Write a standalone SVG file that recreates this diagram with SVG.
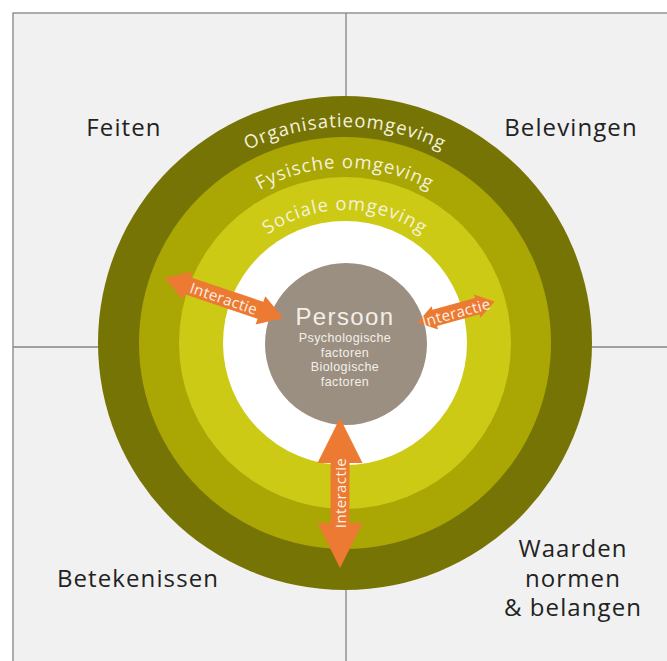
<svg xmlns="http://www.w3.org/2000/svg" width="667" height="661" viewBox="0 0 667 661">
<style>
.q{font-family:"Open Sans","Liberation Sans",sans-serif;font-size:24px;fill:#222;text-anchor:middle;letter-spacing:1.1px}
.ring{font-family:"Open Sans","Liberation Sans",sans-serif;font-size:18.5px;fill:#f4f2dc;letter-spacing:1px}
.arr{fill:#ec7a32}
.at{font-family:"Open Sans","Liberation Sans",sans-serif;font-size:15px;fill:#fff2e8;text-anchor:middle;dominant-baseline:central;letter-spacing:0.4px}
.p{font-family:"Liberation Sans",Arial,sans-serif;fill:#f3efe8;text-anchor:middle}
.grid{stroke:#858585;stroke-width:1.3}
</style>
<defs>
<path id="a1" d="M129,343 A216,216 0 0 1 561,343"/>
<path id="a2" d="M170,343 A175,175 0 0 1 520,343"/>
<path id="a3" d="M212,343 A133,133 0 0 1 478,343"/>
</defs>
<rect width="667" height="661" fill="#ffffff"/>
<g id="frame">
<rect x="13" y="13" width="670" height="670" fill="#f1f1f1" class="grid"/>
<line x1="346" y1="13" x2="346" y2="661" class="grid"/>
<line x1="13" y1="347" x2="667" y2="347" class="grid"/>
</g>
<g id="organisatieomgeving">
<circle cx="345" cy="343" r="247" fill="#777406"/>
<text class="ring"><textPath href="#a1" startOffset="50%" text-anchor="middle">Organisatieomgeving</textPath></text>
</g>
<g id="fysische-omgeving">
<circle cx="345" cy="343" r="206" fill="#aaa705"/>
<text class="ring"><textPath href="#a2" startOffset="50%" text-anchor="middle">Fysische omgeving</textPath></text>
</g>
<g id="sociale-omgeving">
<circle cx="345" cy="343" r="166" fill="#cdca15"/>
<text class="ring"><textPath href="#a3" startOffset="50%" text-anchor="middle">Sociale omgeving</textPath></text>
</g>
<g id="white-zone">
<circle cx="345" cy="343" r="122" fill="#ffffff"/>
</g>
<g id="persoon">
<circle cx="346" cy="344" r="81" fill="#9b8f82"/>
<text class="p" x="345" y="325" font-size="24" letter-spacing="1.4">Persoon</text>
<text class="p" x="345" y="342" font-size="12.5" letter-spacing="0.4">Psychologische</text>
<text class="p" x="345" y="356.5" font-size="12.5" letter-spacing="0.4">factoren</text>
<text class="p" x="345" y="371" font-size="12.5" letter-spacing="0.4">Biologische</text>
<text class="p" x="345" y="385.5" font-size="12.5" letter-spacing="0.4">factoren</text>
</g>
<g id="connectors">
<g transform="translate(224,298) rotate(18.7)">
<polygon class="arr" points="-62.5,0 -38.5,-15 -38.5,-9 38.5,-9 38.5,-15 62.5,0 38.5,15 38.5,9 -38.5,9 -38.5,15"/>
<text class="at" x="0" y="0">Interactie</text>
</g>
<g transform="translate(456,312) rotate(-15.4)">
<polygon class="arr" points="-40,0 -22,-12 -22,-8.5 22,-8.5 22,-12 40,0 22,12 22,8.5 -22,8.5 -22,12"/>
<text class="at" x="0" y="0" font-size="14">Interactie</text>
</g>
<g transform="translate(340,493) rotate(-90)">
<polygon class="arr" points="-75,0 -30,-22.5 -30,-9.5 30,-9.5 30,-22.5 75,0 30,22.5 30,9.5 -30,9.5 -30,22.5"/>
<text class="at" x="0" y="0">Interactie</text>
</g>
</g>
<g id="feiten"><text class="q" x="124" y="136">Feiten</text></g>
<g id="belevingen"><text class="q" x="571" y="136">Belevingen</text></g>
<g id="betekenissen"><text class="q" x="138" y="587">Betekenissen</text></g>
<g id="waarden">
<text class="q" x="573" y="557">Waarden</text>
<text class="q" x="573" y="587">normen</text>
<text class="q" x="573" y="616">&amp; belangen</text>
</g>
</svg>
